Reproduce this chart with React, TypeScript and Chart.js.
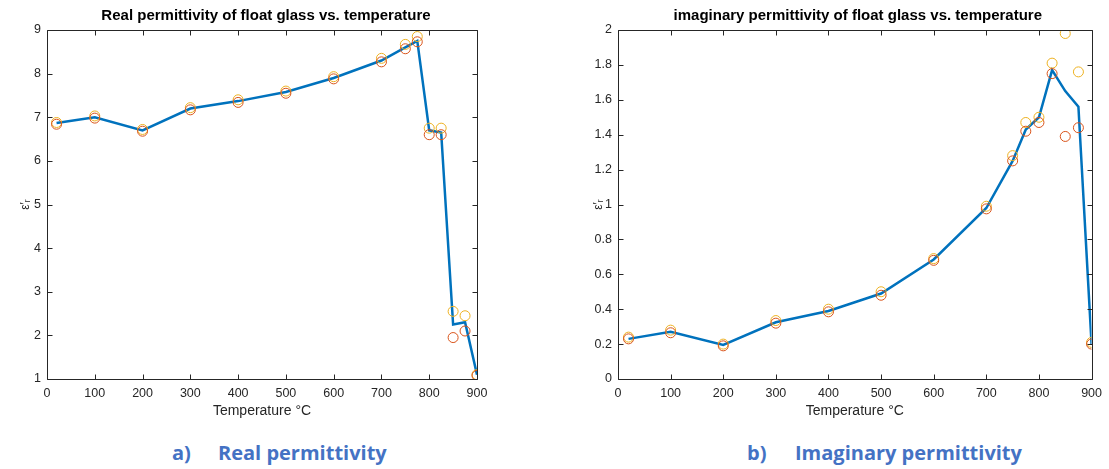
import React, { useEffect, useRef } from "react";
import { Chart, registerables } from "chart.js";

Chart.register(...registerables);

const temps = [20, 100, 200, 300, 400, 500, 600, 700, 750, 775, 800, 825, 850, 875, 900];

const realFit = [6.87, 7.0, 6.7, 7.2, 7.37, 7.58, 7.9, 8.3, 8.6, 8.75, 6.7, 6.65, 2.25, 2.3, 1.1];
const realA = [6.88, 7.03, 6.72, 7.22, 7.4, 7.6, 7.93, 8.35, 8.67, 8.85, 6.75, 6.75, 2.55, 2.45, 1.1];
const realB = [6.84, 6.98, 6.68, 7.17, 7.34, 7.55, 7.88, 8.27, 8.57, 8.73, 6.6, 6.6, 1.95, 2.1, 1.08];

const imagFit = [0.23, 0.27, 0.195, 0.325, 0.39, 0.49, 0.685, 0.98, 1.25, 1.43, 1.5, 1.77, 1.65, 1.56, 0.2];
const imagA = [0.24, 0.28, 0.2, 0.335, 0.4, 0.5, 0.69, 0.99, 1.28, 1.47, 1.5, 1.81, 1.98, 1.76, 0.21];
const imagB = [0.23, 0.265, 0.19, 0.32, 0.385, 0.48, 0.68, 0.975, 1.25, 1.42, 1.47, 1.75, 1.39, 1.44, 0.2];

const xTicks = [0, 100, 200, 300, 400, 500, 600, 700, 800, 900];

const TXT = "#262626";
const FONT = "'Liberation Sans', Arial, sans-serif";

const boxPlugin = {
  id: "matlabBox",
  afterDatasetsDraw(chart: any, _args: any, opts: any) {
    const { ctx, chartArea: a, scales } = chart;
    ctx.save();
    ctx.strokeStyle = TXT;
    ctx.lineWidth = 1;
    ctx.beginPath();
    const L = Math.round(a.left) + 0.5, R = Math.round(a.right) + 0.5;
    const T = Math.round(a.top) + 0.5, B = Math.round(a.bottom) + 0.5;
    ctx.rect(L, T, R - L, B - T);
    const tl = 5;
    scales.x.ticks.forEach((t: any) => {
      const px = Math.round(scales.x.getPixelForValue(t.value)) + 0.5;
      ctx.moveTo(px, B); ctx.lineTo(px, B - tl);
      ctx.moveTo(px, T); ctx.lineTo(px, T + tl);
    });
    scales.y.ticks.forEach((t: any) => {
      const py = Math.round(scales.y.getPixelForValue(t.value)) + 0.5;
      ctx.moveTo(L, py); ctx.lineTo(L + tl, py);
      ctx.moveTo(R, py); ctx.lineTo(R - tl, py);
    });
    ctx.stroke();
    // title centred over the axes
    ctx.fillStyle = "#000";
    ctx.font = "bold 15px " + FONT;
    ctx.textAlign = "center";
    ctx.textBaseline = "middle";
    ctx.fillText(opts.text, (a.left + a.right) / 2 + opts.dx, 16);
    ctx.restore();
  },
};

function makeConfig(title: string, fit: number[], a: number[], b: number[], yMin: number, yMax: number, yStep: number, yWidth: number, padRight: number, yTitlePad: number, titleDx: number) {
  const pts = (vals: number[]) => temps.map((t, i) => ({ x: t, y: vals[i] }));
  return {
    type: "line",
    data: {
      datasets: [
        { data: pts(fit), borderColor: "#0072BD", borderWidth: 2.5, pointRadius: 0, fill: false, tension: 0, order: 3 },
        { data: pts(a), showLine: false, pointRadius: 5, pointBorderColor: "#EDB120", pointBackgroundColor: "rgba(0,0,0,0)", pointBorderWidth: 1, order: 2 },
        { data: pts(b), showLine: false, pointRadius: 5, pointBorderColor: "#D95319", pointBackgroundColor: "rgba(0,0,0,0)", pointBorderWidth: 1, order: 1 },
      ],
    },
    options: {
      animation: false,
      responsive: false,
      layout: { padding: { left: 0, right: padRight, top: 30, bottom: 0 } },
      plugins: {
        legend: { display: false },
        tooltip: { enabled: false },
        title: { display: false },
        matlabBox: { text: title, dx: titleDx },
      },
      scales: {
        x: {
          type: "linear",
          min: 0,
          max: 900,
          afterBuildTicks: (s: any) => { s.ticks = xTicks.map((v) => ({ value: v })); },
          grid: { display: false, drawTicks: false },
          border: { display: false },
          ticks: { color: TXT, font: { family: FONT, size: 12.5 }, padding: 7, maxRotation: 0 },
          title: { display: true, text: "Temperature °C", color: TXT, font: { family: FONT, size: 14 }, padding: { top: 2, bottom: 0 } },
          afterFit: (s: any) => { s.height = 41; },
        },
        y: {
          type: "linear",
          min: yMin,
          max: yMax,
          ticks: {
            stepSize: yStep,
            color: TXT,
            font: { family: FONT, size: 12.5 },
            padding: 6,
            callback: (v: any) => String(Number(Number(v).toFixed(1))),
          },
          grid: { display: false, drawTicks: false },
          border: { display: false },
          title: { display: true, text: "ε′ᵣ", color: TXT, font: { family: FONT, size: 12 }, padding: { top: yTitlePad, bottom: 4 } },
          afterFit: (s: any) => { s.width = yWidth; },
        },
      },
    },
    plugins: [boxPlugin],
  };
}

function ChartBox(props: { cfg: any; left: number; width: number; height: number }) {
  const ref = useRef<HTMLCanvasElement>(null);
  useEffect(() => {
    const c = new Chart(ref.current as HTMLCanvasElement, props.cfg);
    return () => c.destroy();
  }, []);
  return (
    <canvas
      ref={ref}
      width={props.width}
      height={props.height}
      style={{ position: "absolute", left: props.left, top: 0, width: props.width, height: props.height }}
    />
  );
}

const captionStyle: React.CSSProperties = {
  position: "absolute",
  top: 440,
  fontFamily: "'Open Sans', 'Liberation Sans', sans-serif",
  fontWeight: 700,
  fontSize: 20,
  color: "#4472C4",
  whiteSpace: "pre",
  lineHeight: "26px",
};

export default function App() {
  const leftCfg = makeConfig("Real permittivity of float glass vs. temperature", realFit, realA, realB, 1, 9, 1, 47, 23, 18, 4);
  const rightCfg = makeConfig("imaginary permittivity of float glass vs. temperature", imagFit, imagA, imagB, 0, 2, 0.2, 58, 15, 31, 3);
  return (
    <div style={{ position: "absolute", left: 0, top: 0, width: 1109, height: 469, background: "#fff", overflow: "hidden" }}>
      <ChartBox cfg={leftCfg} left={0} width={500} height={420} />
      <ChartBox cfg={rightCfg} left={560} width={549} height={420} />
      <div style={{ ...captionStyle, left: 172 }}>a)</div>
      <div style={{ ...captionStyle, left: 218 }}>Real permittivity</div>
      <div style={{ ...captionStyle, left: 747 }}>b)</div>
      <div style={{ ...captionStyle, left: 795 }}>Imaginary permittivity</div>
    </div>
  );
}
